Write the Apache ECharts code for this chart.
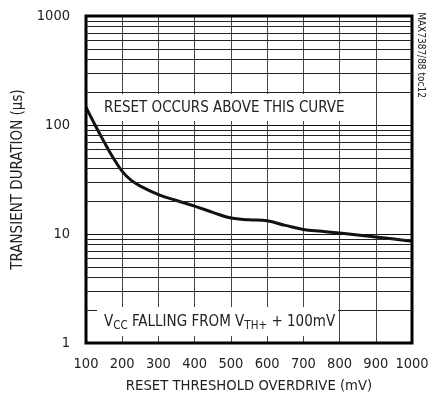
<!DOCTYPE html>
<html><head><meta charset="utf-8">
<script src="https://cdn.jsdelivr.net/npm/echarts@6/dist/echarts.min.js"></script>
<style>html,body{margin:0;padding:0;background:#fff}#c{width:428px;height:401px}</style>
</head><body><div id="c"></div>
<script>
var overdrive = [100, 125, 150, 175, 200, 225, 250, 300, 350, 400, 450, 500, 550, 600, 650, 700, 750, 800, 850, 900, 950, 1000];
var duration  = [146, 100, 70, 50, 37.5, 31, 27.5, 23, 20.3, 18, 15.8, 14, 13.5, 13.2, 12, 11, 10.6, 10.2, 9.8, 9.4, 9.0, 8.6];
var xTicks = [100, 200, 300, 400, 500, 600, 700, 800, 900, 1000];
var yTicks = [1, 10, 100, 1000];
var minorY = [2,3,4,5,6,7,8,9,20,30,40,50,60,70,80,90,200,300,400,500,600,700,800,900];

var FONT = '"Liberation Sans Narrow","DejaVu Sans Condensed",sans-serif';
var chart = echarts.init(document.getElementById('c'), null, {renderer:'canvas'});
chart.setOption({
  animation:false,
  backgroundColor:'#fff',
  grid:{left:86, top:16, right:16, bottom:58, show:true, borderColor:'#000', borderWidth:3, z:5,
        containLabel:false, outerBoundsMode:'none'},
  xAxis:{type:'value', min:100, max:1000, interval:100,
    name:'RESET THRESHOLD OVERDRIVE (mV)', nameLocation:'middle', nameGap:36,
    nameTextStyle:{fontFamily:FONT, fontSize:14.7, color:'#222'},
    axisLine:{show:false}, axisTick:{show:false},
    axisLabel:{fontFamily:FONT, fontSize:14.5, color:'#222', margin:14,
      formatter:function(v){return xTicks.indexOf(v)>=0 ? String(v) : '';}},
    splitLine:{show:true, lineStyle:{color:'#444', width:1}}},
  yAxis:{type:'log', logBase:10, min:1, max:1000,
    name:'TRANSIENT DURATION (µs)', nameLocation:'middle', nameGap:58, nameRotate:90,
    nameTextStyle:{fontFamily:FONT, fontSize:15, color:'#222'},
    axisLine:{show:false}, axisTick:{show:false},
    axisLabel:{fontFamily:FONT, fontSize:14.5, color:'#222', margin:16,
      formatter:function(v){return yTicks.indexOf(v)>=0 ? String(v) : '';}},
    splitLine:{show:true, lineStyle:{color:'#111', width:1}}},
  series:[
    {type:'line', data:[], z:1, silent:true,
     markLine:{silent:true, symbol:['none','none'], label:{show:false},
       lineStyle:{color:'#222', width:1, type:'solid'},
       data:minorY.map(function(v){return {yAxis:v};})}},
    {type:'line', smooth:0.4, showSymbol:false, z:3,
     lineStyle:{color:'#111', width:3},
     data:overdrive.map(function(x,i){return [x, duration[i]];})}
  ],
  graphic:[
    {type:'rect', z:10, shape:{x:97, y:94, width:254, height:27}, style:{fill:'#fff'}},
    {type:'text', z:11, x:104, y:108, style:{text:'RESET OCCURS ABOVE THIS CURVE', fontFamily:FONT, fontSize:15, fill:'#222', verticalAlign:'middle'}},
    {type:'rect', z:10, shape:{x:97, y:307, width:241, height:29}, style:{fill:'#fff'}},
    {type:'text', z:11, x:104, y:322, style:{
      text:'V{sub|CC} FALLING FROM V{sub|TH+} + 100mV',
      fontFamily:FONT, fontSize:15, fill:'#222', verticalAlign:'middle',
      rich:{sub:{fontFamily:FONT, fontSize:11.5, fill:'#222', padding:[8,0,0,0]}}}},
    {type:'text', z:11, x:421, y:55, rotation:-Math.PI/2, style:{text:'MAX7387/88 toc12', fontFamily:FONT, fontSize:10, fill:'#222', align:'center', verticalAlign:'middle'}}
  ]
});
</script></body></html>
